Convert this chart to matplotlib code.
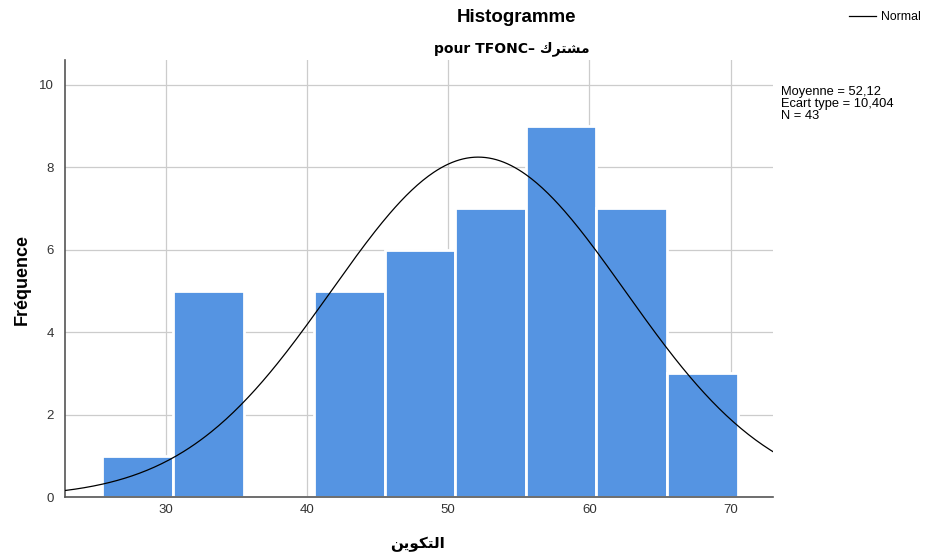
import numpy as np
import matplotlib.pyplot as plt

# Histogram of the scores (5-point bins)
bin_edges = [25.5, 30.5, 35.5, 40.5, 45.5, 50.5, 55.5, 60.5, 65.5, 70.5]
counts = [1, 5, 0, 5, 6, 7, 9, 7, 3]

# Summary statistics shown next to the plot
mean = 52.12
std = 10.404
n = 43

x_ticks = [30, 40, 50, 60, 70]
y_ticks = [0, 2, 4, 6, 8, 10]

# Arabic words in presentation forms, visual order (no shaping engine in matplotlib)
subtitle_ar = '\uFED9\uFEAE\uFE98\uFEB8\uFEE3'
xlabel_ar = '\uFEE6\uFEF3\uFEEE\uFEDC\uFE98\uFEDF\uFE8D'

plt.rcParams['font.family'] = ['Liberation Sans', 'DejaVu Sans']

fig = plt.figure(figsize=(9.3, 5.57), dpi=100)
ax = fig.add_axes([0.0699, 0.1077, 0.7612, 0.7846])

widths = np.diff(bin_edges)
ax.bar(bin_edges[:-1], counts, width=widths, align='edge',
       color='#5594e2', edgecolor='white', linewidth=2, zorder=2)

# Normal curve scaled to the histogram
xs = np.linspace(22, 74, 400)
bw = widths[0]
ys = n * bw / (std * np.sqrt(2 * np.pi)) * np.exp(-0.5 * ((xs - mean) / std) ** 2)
ax.plot(xs, ys, color='black', linewidth=0.9, zorder=3, label='Normal')

ax.set_xlim(22.85, 73)
ax.set_ylim(0, 10.6)
ax.set_xticks(x_ticks)
ax.set_yticks(y_ticks)
ax.grid(True, color='#cccccc', linewidth=0.9, zorder=0)
ax.set_axisbelow(True)
ax.tick_params(length=0, labelsize=9.5, colors='#333333')
ax.tick_params(axis='x', pad=5)
ax.tick_params(axis='y', pad=8)
for s in ['top', 'right']:
    ax.spines[s].set_visible(False)
for s in ['left', 'bottom']:
    ax.spines[s].set_color('#555555')
    ax.spines[s].set_linewidth(1.2)

ax.set_ylabel('Fréquence', fontsize=13, fontweight='bold')
ax.yaxis.set_label_coords(-0.049, 0.497)
ax.set_xlabel(xlabel_ar, fontsize=11, fontweight='bold',
              family=['DejaVu Sans'])
ax.xaxis.set_label_coords(0.4986, -0.092)

fig.text(0.555, 0.968, 'Histogramme', ha='center', va='center',
         fontsize=13.5, fontweight='bold')
fig.text(0.55, 0.913, 'pour TFONC\u2013 ' + subtitle_ar, ha='center', va='center',
         fontsize=10, fontweight='bold', family=['DejaVu Sans'])

fig.text(0.8395, 0.813, 'Moyenne = 52,12\nEcart type = 10,404\nN = 43',
         ha='left', va='center', fontsize=9.3, linespacing=1.0)

fig.legend(loc='upper right', bbox_to_anchor=(1.002, 1.0), frameon=False,
           fontsize=8.8, handlelength=2.2, handletextpad=0.4)

plt.savefig('out.png', dpi=100)
